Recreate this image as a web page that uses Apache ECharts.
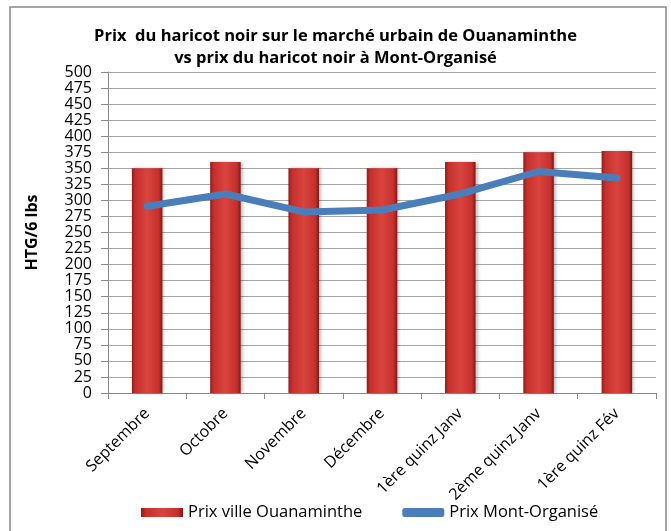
<!DOCTYPE html>
<html>
<head>
<meta charset="utf-8">
<script src="https://cdn.jsdelivr.net/npm/echarts@6/dist/echarts.min.js"></script>
<style>
  html, body { margin: 0; padding: 0; background: #fff; }
  #main { width: 671px; height: 531px; }
</style>
</head>
<body>
<div id="main"></div>
<script>
var categories = ['Septembre', 'Octobre', 'Novembre', 'Décembre', '1ère quinz Janv', '2ème quinz Janv', '1ère quinz Fév'];
var prixOuanaminthe = [350, 360, 350, 350, 360, 375, 377];
var prixMontOrganise = [291, 310, 282, 285, 310, 345, 335];

var font = 'Open Sans';

var myChart = echarts.init(document.getElementById('main'));

// barre rouge avec bords sombres
var barColor = new echarts.graphic.LinearGradient(0, 0, 1, 0, [
    { offset: 0, color: '#8e1e1b' },
    { offset: 0.12, color: '#c6302c' },
    { offset: 0.5, color: '#d9443f' },
    { offset: 0.88, color: '#c6302c' },
    { offset: 1, color: '#7d1816' }
]);

myChart.setOption({
    animation: false,
    backgroundColor: '#fff',
    graphic: [{
        type: 'rect',
        shape: { x: 10, y: 7, width: 656, height: 530 },
        style: { fill: 'none', stroke: '#888', lineWidth: 1.5 },
        silent: true
    }],
    title: {
        text: 'Prix  du haricot noir sur le marché urbain de Ouanaminthe\nvs prix du haricot noir à Mont-Organisé',
        left: 'center',
        top: 20,
        textStyle: {
            fontFamily: font,
            fontSize: 16.5,
            fontWeight: 'bold',
            color: '#000',
            lineHeight: 22
        }
    },
    legend: {
        bottom: 5,
        left: 136,
        itemGap: 40,
        itemWidth: 42,
        itemHeight: 9,
        textStyle: { fontFamily: font, fontSize: 16.5, color: '#000' },
        data: [
            { name: 'Prix ville Ouanaminthe', icon: 'rect' },
            { name: 'Prix Mont-Organisé', icon: 'roundRect' }
        ]
    },
    grid: {
        left: 108,
        right: 15,
        top: 72,
        bottom: 138
    },
    xAxis: {
        type: 'category',
        data: categories,
        axisLine: { lineStyle: { color: '#888' } },
        axisTick: { show: true, length: 6, alignWithLabel: false, lineStyle: { color: '#888' } },
        axisLabel: {
            interval: 0,
            rotate: 45,
            fontFamily: font,
            fontSize: 16,
            color: '#000',
            margin: 18
        }
    },
    yAxis: {
        type: 'value',
        min: 0,
        max: 500,
        interval: 25,
        name: 'HTG/6 lbs',
        nameLocation: 'middle',
        nameGap: 68,
        nameTextStyle: { fontFamily: font, fontSize: 16, fontWeight: 'bold', color: '#000' },
        axisLine: { show: true, lineStyle: { color: '#888' } },
        axisTick: { show: true, length: 7, lineStyle: { color: '#888' } },
        axisLabel: { fontFamily: font, fontSize: 16, color: '#000', margin: 16, lineHeight: 13 },
        splitLine: { lineStyle: { color: '#a6a6a6' } }
    },
    series: [{
        name: 'Prix ville Ouanaminthe',
        type: 'bar',
        data: prixOuanaminthe,
        barWidth: '39%',
        itemStyle: {
            color: barColor,
            shadowColor: 'rgba(0,0,0,0.25)',
            shadowBlur: 3,
            shadowOffsetX: 2
        },
        z: 2
    }, {
        name: 'Prix Mont-Organisé',
        type: 'line',
        data: prixMontOrganise,
        showSymbol: false,
        symbol: 'none',
        lineStyle: { color: '#4a7ebb', width: 7, cap: 'round', join: 'round' },
        itemStyle: { color: '#4a7ebb' },
        z: 3
    }]
});
</script>
</body>
</html>
